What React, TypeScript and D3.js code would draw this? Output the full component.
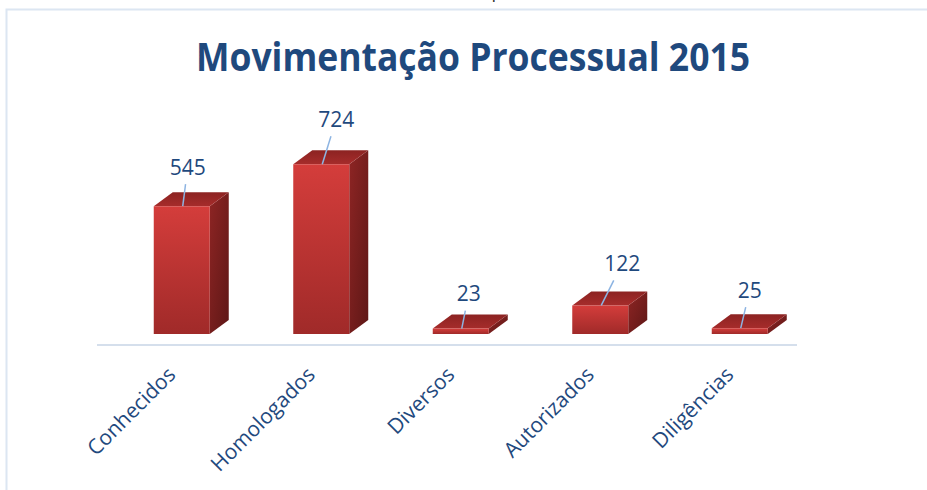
import React from "react";
import * as d3 from "d3";

const categories = ["Conhecidos", "Homologados", "Diversos", "Autorizados", "Diligências"];
const values = [545, 724, 23, 122, 25];
// label placement offsets (dx, dy) relative to front-top centre of each bar
const labelOffsets: [number, number][] = [
  [6, -39],
  [15, -45],
  [8, -35],
  [22, -42],
  [10, -38],
];
const title = "Movimentação Processual 2015";

const W = 927;
const H = 490;
const DEPTH_X = 19;
const DEPTH_Y = -14;
const FLOOR_Y = 334;

export default function App() {
  const x = d3.scaleBand<string>().domain(categories).range([97, 794.5]).paddingInner(0).paddingOuter(0);
  const y = d3.scaleLinear().domain([0, 800]).range([FLOOR_Y, FLOOR_Y - 800 * 0.2345]);
  const barW = 56;
  const blue = "#1F497D";
  const font = "'Open Sans', 'Noto Sans', sans-serif";

  return (
    <svg width={W} height={H} style={{ position: "absolute", left: 0, top: 0, background: "#fff" }}>
      <defs>
        <linearGradient id="front" x1="0" y1="0" x2="0" y2="1">
          <stop offset="0" stopColor="#D43D3B" />
          <stop offset="1" stopColor="#A02A29" />
        </linearGradient>
        <linearGradient id="side" x1="0" y1="0" x2="1" y2="1">
          <stop offset="0" stopColor="#8E2524" />
          <stop offset="1" stopColor="#5E1716" />
        </linearGradient>
        <linearGradient id="top" x1="0" y1="1" x2="0" y2="0">
          <stop offset="0" stopColor="#A62C2B" />
          <stop offset="1" stopColor="#8C2322" />
        </linearGradient>
      </defs>
      {/* cut-off text at top */}
      <text x={497} y={-2} fontFamily={font} fontSize={18} fill="#333" textAnchor="middle">p</text>
      {/* chart border */}
      <path d={`M6.5,${H} L6.5,9.5 L${W},9.5`} fill="none" stroke="#DCE6F2" strokeWidth={2} />
      {/* title */}
      <text
        x={473}
        y={71}
        textAnchor="middle"
        fontFamily={font}
        fontWeight="bold"
        fontSize={39}
        fill={blue}
        textLength={554}
        lengthAdjust="spacingAndGlyphs"
      >
        {title}
      </text>
      {/* floor line */}
      <line x1={97} x2={797} y1={345} y2={345} stroke="#D5DFEC" strokeWidth={2} />
      {categories.map((c, i) => {
        const cx = (x(c) as number) + x.bandwidth() / 2 + 15;
        const x0 = cx - barW / 2;
        const x1 = cx + barW / 2;
        const yt = y(values[i]);
        const yb = FLOOR_Y;
        const front = `M${x0},${yt} L${x1},${yt} L${x1},${yb} L${x0},${yb} Z`;
        const side = `M${x1},${yt} L${x1 + DEPTH_X},${yt + DEPTH_Y} L${x1 + DEPTH_X},${yb + DEPTH_Y} L${x1},${yb} Z`;
        const topF = `M${x0},${yt} L${x0 + DEPTH_X},${yt + DEPTH_Y} L${x1 + DEPTH_X},${yt + DEPTH_Y} L${x1},${yt} Z`;
        const [dx, dy] = labelOffsets[i];
        const lx = cx + dx;
        const ly = yt + dy;
        const ex = cx + 1;
        const ey = yt;
        const t = 17 / (ey - ly);
        const sx = lx + (ex - lx) * t;
        const sy = ly + 17;
        return (
          <g key={c}>
            <path d={side} fill="url(#side)" />
            <path d={topF} fill="url(#top)" />
            <path d={front} fill="url(#front)" />
            <line x1={sx} y1={sy} x2={ex} y2={ey} stroke="#8DB4E2" strokeWidth={1.5} />
            <text x={lx} y={ly + 7.5} textAnchor="middle" fontFamily={font} fontSize={21} fill={blue}>
              {values[i]}
            </text>
            <text
              transform={`translate(${cx - 5},376) rotate(-45)`}
              textAnchor="end"
              fontFamily={font}
              fontSize={21}
              fill={blue}
            >
              {c}
            </text>
          </g>
        );
      })}
    </svg>
  );
}
